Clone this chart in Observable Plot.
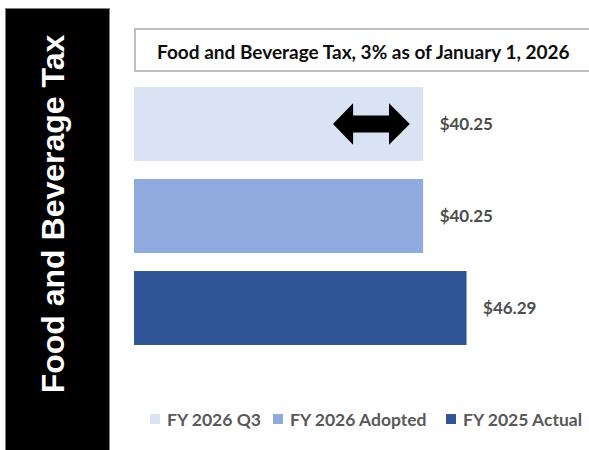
<!DOCTYPE html>
<html>
<head>
<meta charset="utf-8">
<script src="https://cdn.jsdelivr.net/npm/d3@7"></script>
<script src="https://cdn.jsdelivr.net/npm/@observablehq/plot@0.6"></script>
<style>
  html, body { margin: 0; padding: 0; background: #fff; }
  #wrap { position: relative; width: 589px; height: 450px; overflow: hidden; background: #fff; }
  #panel { position: absolute; left: 5px; top: 8px; width: 105px; height: 450px; box-sizing: border-box;
           background: #000; border: 1px solid #7f7f7f; }
  #panel span { position: absolute; left: 46.5px; top: 205px; white-space: nowrap;
           font-family: "Liberation Sans", Arial, sans-serif; font-weight: bold; font-size: 32px; line-height: 1;
           color: #fff; transform: translate(-50%, -50%) rotate(-90deg); }
  #titlebox { position: absolute; left: 134px; top: 28px; width: 480px; height: 44px; box-sizing: border-box;
           border: 2px solid #bfbfbf; background: #fff; display: flex; align-items: center;
           padding: 3px 0 0 21px; font-family: Lato, sans-serif; font-weight: bold; font-size: 19px; color: #0d0d0d; }
  #chart { position: absolute; left: 0; top: 0; }
  #legend { position: absolute; left: 0; top: 408px; width: 589px; height: 22px;
           font-family: Lato, sans-serif; font-weight: bold; font-size: 17.5px; color: #595959; }
  #legend .item { position: absolute; top: 0; height: 22px; display: flex; align-items: center; white-space: nowrap; }
  #legend .sw { width: 10px; height: 10px; margin-right: 7px; }
</style>
</head>
<body>
<div id="wrap">
  <div id="panel"><span id="sidetitle"></span></div>
  <div id="chart"></div>
  <div id="titlebox"></div>
  <div id="legend"></div>
</div>
<script>
const sideTitle = "Food and Beverage Tax";
const boxTitle = "Food and Beverage Tax, 3% as of January 1, 2026";
const categories = ["FY 2026 Q3", "FY 2026 Adopted", "FY 2025 Actual"];
const values = [40.25, 40.25, 46.29];
const valueLabels = ["$40.25", "$40.25", "$46.29"];
const colors = ["#DAE3F3", "#8FAADC", "#2F5597"];
// double-headed arrow annotation on the first bar (in value units)
const arrowBand = "FY 2026 Q3";
const arrowStops = [27.7, 30.5, 35.5, 38.4];
// legend item left edges (layout)
const legendLeft = [150, 273, 446];

document.getElementById("sidetitle").textContent = sideTitle;
document.getElementById("titlebox").textContent = boxTitle;

const data = categories.map((c, i) => ({category: c, value: values[i], label: valueLabels[i]}));

function arrowMark(index, scales) {
  const x = scales.x, y = scales.y;
  const bw = typeof y.bandwidth === "function" ? y.bandwidth() : y.bandwidth;
  const cy = y(arrowBand) + bw / 2;
  const [a, b, c, d] = arrowStops.map(v => x(v));
  const hh = bw * 0.28, sh = bw * 0.115;
  const path = `M${a},${cy} L${b},${cy - hh} L${b},${cy - sh} L${c},${cy - sh} L${c},${cy - hh} L${d},${cy} L${c},${cy + hh} L${c},${cy + sh} L${b},${cy + sh} L${b},${cy + hh} Z`;
  return d3.create("svg:path").attr("d", path).attr("fill", "#000").node();
}

const chart = Plot.plot({
  width: 589,
  height: 450,
  marginLeft: 134,
  marginRight: 24,
  marginTop: 78,
  marginBottom: 96,
  x: {domain: [0, 60], axis: null},
  y: {domain: categories, axis: null, paddingInner: 0.2, paddingOuter: 0.1},
  color: {domain: categories, range: colors},
  style: {background: "transparent", fontFamily: "Lato, sans-serif", overflow: "visible"},
  marks: [
    Plot.barX(data, {x: "value", y: "category", fill: "category"}),
    Plot.text(data, {x: "value", y: "category", text: "label", dx: 16, textAnchor: "start",
      fill: "#4d4d4d", fontSize: 17, fontWeight: "bold", fontFamily: "Lato, sans-serif"}),
    arrowMark
  ]
});
document.getElementById("chart").appendChild(chart);

const legend = document.getElementById("legend");
categories.forEach((c, i) => {
  const item = document.createElement("div");
  item.className = "item";
  item.style.left = legendLeft[i] + "px";
  const sw = document.createElement("div");
  sw.className = "sw";
  sw.style.background = colors[i];
  const t = document.createElement("span");
  t.textContent = c;
  item.appendChild(sw);
  item.appendChild(t);
  legend.appendChild(item);
});
</script>
</body>
</html>
